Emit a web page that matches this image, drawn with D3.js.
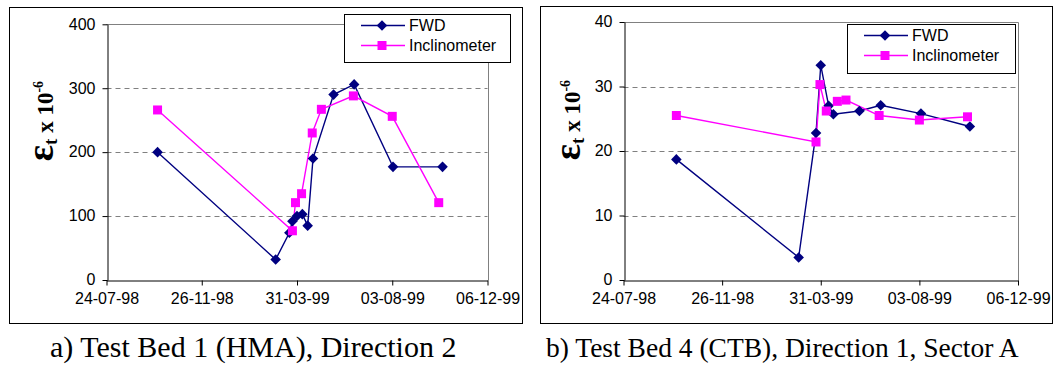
<!DOCTYPE html>
<html>
<head>
<meta charset="utf-8">
<script src="https://cdn.jsdelivr.net/npm/d3@7"></script>
<style>
  body { margin: 0; background: #fff; }
  svg { display: block; }
</style>
</head>
<body>
<svg id="chart" width="1054" height="367"></svg>
<script>

/*************************** Data ***************************/

var tickLabels = ["24-07-98", "26-11-98", "31-03-99", "03-08-99", "06-12-99"];
var legendLabels = ["FWD", "Inclinometer"];

// a) Test Bed 1 (HMA), Direction 2
var hmaYTicks = [0, 100, 200, 300, 400];
var hmaFwdDates = ["29-09-98", "03-03-99", "21-03-99", "25-03-99", "31-03-99", "07-04-99", "14-04-99", "21-04-99", "18-05-99", "14-06-99", "04-08-99", "08-10-99"];
var hmaFwdValues = [200, 32, 74, 92, 100, 103, 85, 190, 290, 306, 177, 177];
var hmaIncDates = ["29-09-98", "25-03-99", "29-03-99", "06-04-99", "20-04-99", "02-05-99", "13-06-99", "03-08-99", "03-10-99"];
var hmaIncValues = [266, 77, 121, 135, 230, 267, 288, 256, 121];

// b) Test Bed 4 (CTB), Direction 1, Sector A
var ctbYTicks = [0, 10, 20, 30, 40];
var ctbFwdDates = ["29-09-98", "03-03-99", "25-03-99", "31-03-99", "10-04-99", "16-04-99", "19-05-99", "15-06-99", "05-08-99", "06-10-99"];
var ctbFwdValues = [18.7, 3.5, 22.8, 33.3, 27.0, 25.7, 26.2, 27.1, 25.8, 23.8];
var ctbIncDates = ["29-09-98", "25-03-99", "30-03-99", "07-04-99", "21-04-99", "02-05-99", "13-06-99", "03-08-99", "03-10-99"];
var ctbIncValues = [25.5, 21.4, 30.3, 26.2, 27.7, 27.9, 25.5, 24.8, 25.3];

var captions = ["a) Test Bed 1 (HMA), Direction 2", "b) Test Bed 4 (CTB), Direction 1, Sector A"];

/*************************** Setup ***************************/

var parseDate = d3.utcParse("%d-%m-%y");
var formatDate = d3.utcFormat("%d-%m-%y");
var svg = d3.select("#chart");

var navy = "#000080", magenta = "#ff00ff", gray = "#808080";
var sansFont = "'Liberation Sans', Arial, sans-serif";
var serifFont = "'Liberation Serif', 'Times New Roman', serif";

function zip(dates, values){
  return dates.map(function(d, i){ return { date: parseDate(d), value: values[i] }; });
}

/*************************** One chart ***************************/

function drawChart(c){

  var g = svg.append("g");

  // outer frame
  g.append("rect")
    .attr("x", c.frame[0] + 0.5).attr("y", c.frame[1] + 0.5)
    .attr("width", c.frame[2]).attr("height", c.frame[3])
    .style("fill", "#fff").style("stroke", "#000").style("stroke-width", 1);

  var x = d3.scaleUtc()
    .domain([parseDate(tickLabels[0]), parseDate(tickLabels[tickLabels.length - 1])])
    .range([c.plot[0], c.plot[1]]);
  var y = d3.scaleLinear()
    .domain([c.yTicks[0], c.yTicks[c.yTicks.length - 1]])
    .range([c.plot[2], c.plot[3]]);

  // dashed grid lines
  g.selectAll(".grid").data(c.yTicks.slice(1, -1)).enter().append("line")
    .attr("x1", c.plot[0]).attr("x2", c.plot[1])
    .attr("y1", function(d){ return Math.round(y(d)) + 0.5; })
    .attr("y2", function(d){ return Math.round(y(d)) + 0.5; })
    .style("stroke", gray).style("stroke-width", 1).style("stroke-dasharray", "5,4");

  // plot area border, top and right
  var top = Math.round(y(c.yTicks[c.yTicks.length - 1])) + 0.5;
  var right = Math.round(c.plot[1]) + 0.5;
  g.append("path")
    .attr("d", "M" + c.plot[0] + "," + top + "H" + right + "V" + (Math.round(c.plot[2]) + 0.5))
    .style("fill", "none").style("stroke", gray).style("stroke-width", 1);

  // axes
  var xAxis = d3.axisBottom(x)
    .tickValues(tickLabels.map(parseDate))
    .tickFormat(formatDate)
    .tickSize(5).tickSizeOuter(0).tickPadding(7);
  var yAxis = d3.axisLeft(y)
    .tickValues(c.yTicks)
    .tickSize(5).tickSizeOuter(0).tickPadding(7);

  var gx = g.append("g")
    .attr("transform", "translate(0," + (Math.round(c.plot[2]) + 0.5) + ")")
    .call(xAxis);
  var gy = g.append("g")
    .attr("transform", "translate(" + (Math.round(c.plot[0]) + 0.5) + ",0)")
    .call(yAxis);

  [gx, gy].forEach(function(a){
    a.selectAll("path, line").style("stroke", "#000").style("stroke-width", 1);
    a.selectAll("text").style("font-family", sansFont).style("font-size", "16px").style("fill", "#000");
  });
  gy.selectAll("text").attr("dy", "0.3em");

  // y axis title
  var title = g.append("text")
    .attr("transform", "translate(" + c.titleX + "," + c.titleY + ") rotate(-90)")
    .attr("text-anchor", "middle")
    .style("font-family", serifFont).style("font-weight", "bold").style("fill", "#000");
  title.append("tspan").style("font-size", "38px").text("ε");
  title.append("tspan").style("font-size", "19px").attr("dy", 4).text("t");
  title.append("tspan").style("font-size", "23px").attr("dy", -4).text(c.titleGap + "x 10");
  title.append("tspan").style("font-size", "14px").attr("dy", -10).text("-6");

  // series
  var line = d3.line()
    .x(function(d){ return x(d.date); })
    .y(function(d){ return y(d.value); });

  var series = [
    { data: zip(c.fwdDates, c.fwdValues), color: navy, shape: "diamond" },
    { data: zip(c.incDates, c.incValues), color: magenta, shape: "square" }
  ];

  var diamond = d3.symbol().type(d3.symbolSquare).size(56);
  var square = d3.symbol().type(d3.symbolSquare).size(81);

  series.forEach(function(s){
    g.append("path").datum(s.data)
      .attr("d", line)
      .style("fill", "none").style("stroke", s.color).style("stroke-width", 1.4);
  });
  series.forEach(function(s){
    g.selectAll(null).data(s.data).enter().append("path")
      .attr("d", s.shape == "diamond" ? diamond : square)
      .attr("transform", function(d){
        return "translate(" + x(d.date) + "," + y(d.value) + ")" + (s.shape == "diamond" ? " rotate(45)" : "");
      })
      .style("fill", s.color).style("stroke", "none");
  });

  // legend
  var lg = g.append("g").attr("transform", "translate(" + c.legend[0] + "," + c.legend[1] + ")");
  lg.append("rect")
    .attr("x", 0.5).attr("y", 0.5).attr("width", c.legend[2]).attr("height", c.legend[3])
    .style("fill", "#fff").style("stroke", "#000").style("stroke-width", 1);

  var rows = lg.selectAll(".row").data(series).enter().append("g")
    .attr("transform", function(d, i){ return "translate(0," + (11.5 + i * 20) + ")"; });
  rows.append("line")
    .attr("x1", 17).attr("x2", 61)
    .style("stroke", function(d){ return d.color; }).style("stroke-width", 1.4);
  rows.append("path")
    .attr("d", function(d){ return d.shape == "diamond" ? diamond() : square(); })
    .attr("transform", function(d){ return "translate(38,0)" + (d.shape == "diamond" ? " rotate(45)" : ""); })
    .style("fill", function(d){ return d.color; });
  rows.append("text")
    .attr("x", 65).attr("dy", "0.36em")
    .style("font-family", sansFont).style("font-size", "16px")
    .text(function(d, i){ return legendLabels[i]; });
}

/*************************** Charts ***************************/

drawChart({
  frame: [9, 7, 513, 316],
  plot: [106.5, 487.5, 280, 24.3],
  yTicks: hmaYTicks,
  fwdDates: hmaFwdDates, fwdValues: hmaFwdValues,
  incDates: hmaIncDates, incValues: hmaIncValues,
  legend: [344, 14, 166, 48],
  titleX: 53, titleY: 121, titleGap: " "
});

drawChart({
  frame: [540, 6, 512, 317],
  plot: [623.5, 1018, 280, 22],
  yTicks: ctbYTicks,
  fwdDates: ctbFwdDates, fwdValues: ctbFwdValues,
  incDates: ctbIncDates, incValues: ctbIncValues,
  legend: [847, 24, 168, 49],
  titleX: 580, titleY: 120, titleGap: "  "
});

/*************************** Captions ***************************/

// the second caption runs to the page edge in the source, a slightly smaller size keeps it whole
var capX = [50, 546];
var capSize = [30, 27.5];
svg.selectAll(".caption").data(captions).enter().append("text")
  .attr("class", "caption")
  .attr("x", function(d, i){ return capX[i]; })
  .attr("y", 357)
  .style("font-family", serifFont)
  .style("font-size", function(d, i){ return capSize[i] + "px"; })
  .style("fill", "#000")
  .text(function(d){ return d; });

</script>
</body>
</html>
